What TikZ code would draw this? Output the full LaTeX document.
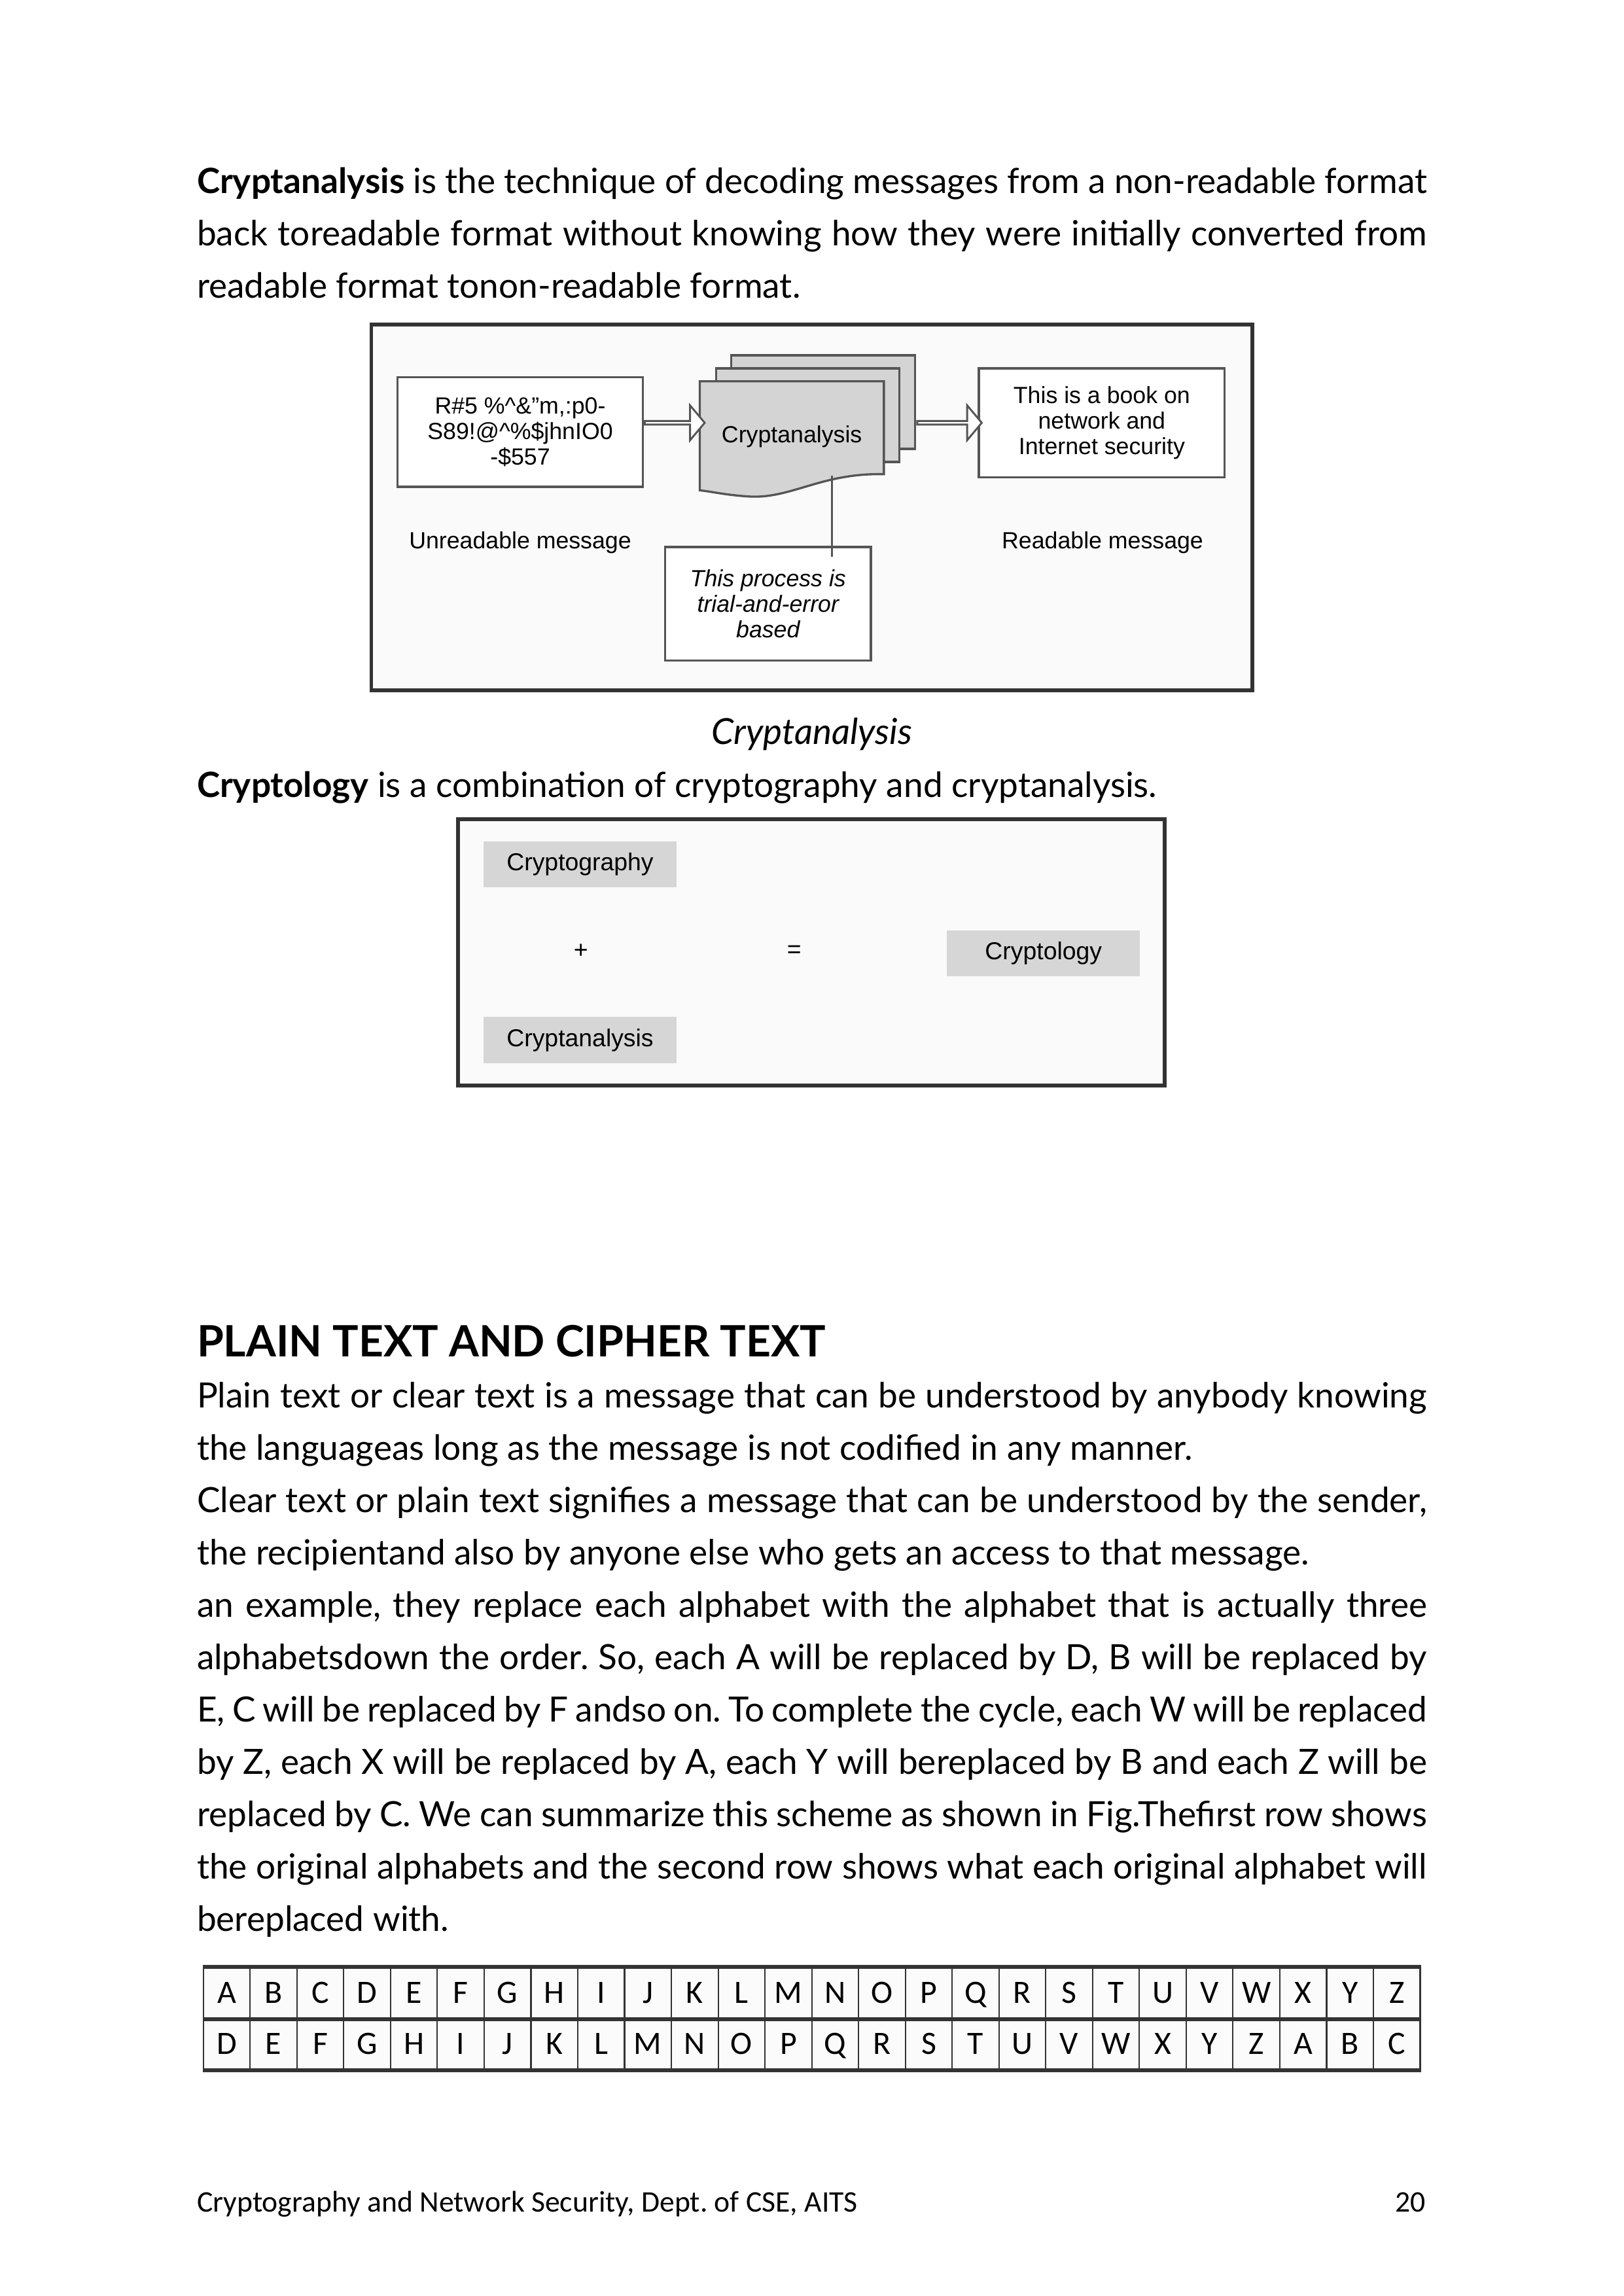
\documentclass[tikz,border=0pt]{standalone}
\usepackage{fontspec}
\setmainfont{Lato}
\newfontfamily\arialfont{Liberation Sans}
\newfontfamily\calfont{Carlito}
\usetikzlibrary{shapes.arrows}
\definecolor{frameline}{HTML}{333333}
\definecolor{boxline}{HTML}{555555}
\definecolor{docfill}{HTML}{D4D4D4}
\definecolor{keyfill}{HTML}{D6D6D6}
\definecolor{panelfill}{HTML}{FAFAFA}
\definecolor{cellfill}{HTML}{FBFBFB}
\frenchspacing

\begin{document}
\begin{tikzpicture}[
    x=0.9925cm, y=0.9925cm,
    body/.style={anchor=base west, inner sep=0, text width=15.91cm, align=justify, font=\fontsize{12.8}{19.25}\selectfont},
    panel/.style={draw=frameline, line width=1.4pt, fill=panelfill},
    msgbox/.style={draw=boxline, line width=0.8pt, fill=white, align=center, inner sep=0, font=\arialfont\fontsize{8.6}{9.4}\selectfont},
    msglabel/.style={inner sep=0, font=\arialfont\fontsize{8.6}{9.4}\selectfont},
    page/.style={draw=boxline, line width=0.8pt, fill=docfill},
    hollow/.style={single arrow, draw=boxline, line width=0.7pt, fill=white, inner sep=0, minimum width=0.45cm, single arrow head extend=0.105cm, single arrow tip angle=100, anchor=tail},
    keybox/.style={fill=keyfill, minimum width=2.5cm, minimum height=0.6cm, inner sep=0, font=\arialfont\fontsize{9}{11}\selectfont},
    cell/.style={draw=frameline, line width=0.5pt, fill=cellfill, minimum width=0.605cm, minimum height=0.66cm, inner sep=0, text height=0.26cm, text depth=0pt, font=\calfont\fontsize{12}{14}\selectfont}
    ]
    \useasboundingbox (0cm,0cm) rectangle (21cm,-29.7cm);

    \node[body] (intro) at (2.56,-2.52) {\textbf{Cryptanalysis} is the technique of decoding messages from a non-readable format\linebreak back toreadable format without knowing how they were initially converted from\linebreak readable format tonon-readable format.};

    % cryptanalysis figure
    \begin{scope}[yshift=-0.04cm]
    \draw[panel] (4.84,-4.19) rectangle (16.32,-8.96);
    \node[msgbox, minimum width=3.17cm, minimum height=1.42cm] (cipher) at (6.78,-5.59) {R\#5 \%\textasciicircum\&”m,:p0-\\S89!@\textasciicircum\%\$jhnIO0\\-\$557};
    \node[msgbox, minimum width=3.18cm, minimum height=1.41cm] (plain) at (14.36,-5.47) {This is a book on\\network and\\Internet security};
    \node[page, minimum width=2.38cm, minimum height=1.21cm] (page3) at (10.73,-5.2) {};
    \node[page, minimum width=2.37cm, minimum height=1.21cm] (page2) at (10.525,-5.37) {};
    \draw[page] (9.12,-4.93) -- (11.52,-4.93) -- (11.52,-6.14) .. controls (10.7,-6.12) and (10.3,-6.47) .. (9.75,-6.43) .. controls (9.45,-6.41) and (9.3,-6.37) .. (9.12,-6.35) -- cycle;
    \node[msglabel] (crypt) at (10.32,-5.65) {Cryptanalysis};
    \coordinate (docfoot) at (10.84,-6.16);
    \node[hollow, minimum height=0.775cm] (arrowin) at (cipher.east |- plain.west) {};
    \node[hollow, minimum height=0.834cm] (arrowout) at (page3.east |- plain.west) {};
    \node[msglabel] (unread) at (6.78,-7.03) {Unreadable message};
    \node[msglabel] (read) at (14.37,-7.03) {Readable message};
    \node[msgbox, minimum width=2.66cm, minimum height=1.47cm, font=\arialfont\itshape\fontsize{8.6}{9.4}\selectfont] (trial) at (10.01,-7.83) {This process is\\trial-and-error\\based};
    \draw[boxline, line width=0.7pt] (docfoot) -- ([yshift=-0.14cm]trial.north -| docfoot);
    \end{scope}

    \node[anchor=base, inner sep=0, font=\fontsize{13.2}{15}\selectfont\itshape] (figcap) at (10.58,-9.7) {Cryptanalysis};
    \node[body] (cryptology) at (2.56,-10.39) {\textbf{Cryptology} is a combination of cryptography and cryptanalysis.};

    % cryptology figure
    \begin{scope}[xshift=0.04cm]
    \draw[panel] (5.93,-10.68) rectangle (15.14,-14.15);
    \node[keybox] (graphy) at (7.52,-11.265) {Cryptography};
    \node[keybox] (analysis) at (7.52,-13.555) {Cryptanalysis};
    \node[keybox] (logy) at (13.56,-12.425) {Cryptology};
    \node[msglabel, font=\arialfont\fontsize{9}{11}\selectfont] (plus) at (7.53,-12.4) {+};
    \node[msglabel, font=\arialfont\fontsize{9}{11}\selectfont] (equals) at (10.31,-12.4) {=};
    \end{scope}

    \node[anchor=base west, inner sep=0, font=\fontsize{15.9}{18}\selectfont\bfseries] (heading) at (2.56,-17.68) {PLAIN TEXT AND CIPHER TEXT};
    \node[body] (plaintext) at (2.56,-18.35) {Plain text or clear text is a message that can be understood by anybody knowing\linebreak the languageas long as the message is not codified in any manner.\par
    Clear text or plain text signifies a message that can be understood by the sender,\linebreak the recipientand also by anyone else who gets an access to that message.\par
    an example, they replace each alphabet with the alphabet that is actually three\linebreak alphabetsdown the order. So, each A will be replaced by D, B will be replaced by\linebreak E, C will be replaced by F andso on. To complete the cycle, each W will be replaced\linebreak by Z, each X will be replaced by A, each Y will bereplaced by B and each Z will be\linebreak replaced by C. We can summarize this scheme as shown in Fig.Thefirst row shows\linebreak the original alphabets and the second row shows what each original alphabet will\linebreak bereplaced with.};

    % substitution table
    \foreach \a [count=\i] in {A,B,C,D,E,F,G,H,I,J,K,L,M,N,O,P,Q,R,S,T,U,V,W,X,Y,Z}
      \node[cell] (orig\i) at ({2.65+(\i-0.5)*0.61},-25.975) {\a};
    \foreach \a [count=\i] in {D,E,F,G,H,I,J,K,L,M,N,O,P,Q,R,S,T,U,V,W,X,Y,Z,A,B,C}
      \node[cell] (shift\i) at ({2.65+(\i-0.5)*0.61},-26.64) {\a};
    \draw[frameline, line width=1.4pt] (orig1.north west) -- (orig26.north east);
    \draw[frameline, line width=1.4pt] (orig1.south west) -- (orig26.south east);
    \draw[frameline, line width=1.4pt] (shift1.south west) -- (shift26.south east);

    \node[anchor=base west, inner sep=0, font=\calfont\fontsize{11}{13}\selectfont] (footer) at (2.56,-28.83) {Cryptography and Network Security, Dept. of CSE, AITS};
    \node[anchor=base east, inner sep=0, font=\calfont\fontsize{11}{13}\selectfont] (pageno) at (18.59,-28.83) {20};
\end{tikzpicture}
\end{document}
